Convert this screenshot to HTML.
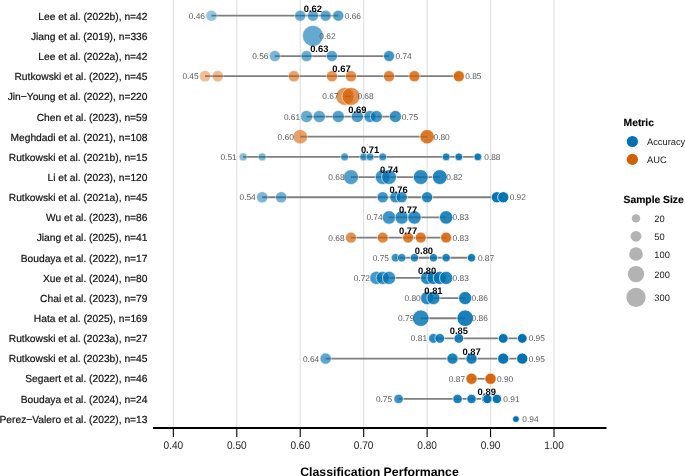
<!DOCTYPE html>
<html><head><meta charset="utf-8"><style>
html,body{margin:0;padding:0;background:#fff;width:685px;height:476px;overflow:hidden}
svg{display:block;will-change:transform;text-rendering:geometricPrecision}
text{font-family:"Liberation Sans",sans-serif}
</style></head><body>
<svg width="685" height="476" viewBox="0 0 685 476" font-family="Liberation Sans, sans-serif">
<line x1="173.35" y1="0" x2="173.35" y2="427" stroke="#E2E2E2" stroke-width="1.2"/>
<line x1="236.79" y1="0" x2="236.79" y2="427" stroke="#E2E2E2" stroke-width="1.2"/>
<line x1="300.23" y1="0" x2="300.23" y2="427" stroke="#E2E2E2" stroke-width="1.2"/>
<line x1="363.67" y1="0" x2="363.67" y2="427" stroke="#E2E2E2" stroke-width="1.2"/>
<line x1="427.11" y1="0" x2="427.11" y2="427" stroke="#E2E2E2" stroke-width="1.2"/>
<line x1="490.55" y1="0" x2="490.55" y2="427" stroke="#E2E2E2" stroke-width="1.2"/>
<line x1="553.99" y1="0" x2="553.99" y2="427" stroke="#E2E2E2" stroke-width="1.2"/>
<text x="147.5" y="19.90" text-anchor="end" font-size="10.25" fill="#111" stroke="#111" stroke-width="0.2">Lee et al. (2022b), n=42</text>
<line x1="211.41" y1="15.70" x2="338.29" y2="15.70" stroke="#7F7F7F" stroke-width="1.8"/>
<circle cx="211.41" cy="15.70" r="5.50" fill="rgb(0,114,178)" fill-opacity="0.412" stroke="#FFFFFF" stroke-opacity="0.412" stroke-width="0.8"/>
<circle cx="300.23" cy="15.70" r="5.50" fill="rgb(0,114,178)" fill-opacity="0.584" stroke="#FFFFFF" stroke-opacity="0.584" stroke-width="0.8"/>
<circle cx="312.92" cy="15.70" r="5.50" fill="rgb(0,114,178)" fill-opacity="0.608" stroke="#FFFFFF" stroke-opacity="0.608" stroke-width="0.8"/>
<circle cx="325.61" cy="15.70" r="5.50" fill="rgb(0,114,178)" fill-opacity="0.633" stroke="#FFFFFF" stroke-opacity="0.633" stroke-width="0.8"/>
<circle cx="338.29" cy="15.70" r="5.50" fill="rgb(0,114,178)" fill-opacity="0.657" stroke="#FFFFFF" stroke-opacity="0.657" stroke-width="0.8"/>
<text x="205.01" y="18.70" text-anchor="end" font-size="8.35" fill="#585858">0.46</text>
<text x="344.69" y="18.70" font-size="8.35" fill="#585858">0.66</text>
<text x="312.92" y="11.70" text-anchor="middle" font-size="9.4" font-weight="bold" fill="#000">0.62</text>
<text x="147.5" y="40.04" text-anchor="end" font-size="10.25" fill="#111" stroke="#111" stroke-width="0.2">Jiang et al. (2019), n=336</text>
<circle cx="312.92" cy="35.87" r="10.40" fill="rgb(0,114,178)" fill-opacity="0.608" stroke="#FFFFFF" stroke-opacity="0.608" stroke-width="0.8"/>
<text x="319.32" y="38.87" font-size="8.35" fill="#585858">0.62</text>
<text x="147.5" y="60.18" text-anchor="end" font-size="10.25" fill="#111" stroke="#111" stroke-width="0.2">Lee et al. (2022a), n=42</text>
<line x1="274.85" y1="56.04" x2="389.05" y2="56.04" stroke="#7F7F7F" stroke-width="1.8"/>
<circle cx="274.85" cy="56.04" r="5.50" fill="rgb(0,114,178)" fill-opacity="0.535" stroke="#FFFFFF" stroke-opacity="0.535" stroke-width="0.8"/>
<circle cx="306.57" cy="56.04" r="5.50" fill="rgb(0,114,178)" fill-opacity="0.596" stroke="#FFFFFF" stroke-opacity="0.596" stroke-width="0.8"/>
<circle cx="331.95" cy="56.04" r="5.50" fill="rgb(0,114,178)" fill-opacity="0.645" stroke="#FFFFFF" stroke-opacity="0.645" stroke-width="0.8"/>
<circle cx="389.05" cy="56.04" r="5.50" fill="rgb(0,114,178)" fill-opacity="0.755" stroke="#FFFFFF" stroke-opacity="0.755" stroke-width="0.8"/>
<text x="268.45" y="59.04" text-anchor="end" font-size="8.35" fill="#585858">0.56</text>
<text x="395.45" y="59.04" font-size="8.35" fill="#585858">0.74</text>
<text x="319.26" y="52.04" text-anchor="middle" font-size="9.4" font-weight="bold" fill="#000">0.63</text>
<text x="147.5" y="80.32" text-anchor="end" font-size="10.25" fill="#111" stroke="#111" stroke-width="0.2">Rutkowski et al. (2022), n=45</text>
<line x1="205.07" y1="76.21" x2="458.83" y2="76.21" stroke="#7F7F7F" stroke-width="1.8"/>
<circle cx="205.07" cy="76.21" r="5.60" fill="rgb(213,94,0)" fill-opacity="0.400" stroke="#FFFFFF" stroke-opacity="0.400" stroke-width="0.8"/>
<circle cx="217.76" cy="76.21" r="5.60" fill="rgb(213,94,0)" fill-opacity="0.424" stroke="#FFFFFF" stroke-opacity="0.424" stroke-width="0.8"/>
<circle cx="293.89" cy="76.21" r="5.60" fill="rgb(213,94,0)" fill-opacity="0.571" stroke="#FFFFFF" stroke-opacity="0.571" stroke-width="0.8"/>
<circle cx="331.95" cy="76.21" r="5.60" fill="rgb(213,94,0)" fill-opacity="0.645" stroke="#FFFFFF" stroke-opacity="0.645" stroke-width="0.8"/>
<circle cx="350.98" cy="76.21" r="5.60" fill="rgb(213,94,0)" fill-opacity="0.682" stroke="#FFFFFF" stroke-opacity="0.682" stroke-width="0.8"/>
<circle cx="389.05" cy="76.21" r="5.60" fill="rgb(213,94,0)" fill-opacity="0.755" stroke="#FFFFFF" stroke-opacity="0.755" stroke-width="0.8"/>
<circle cx="414.42" cy="76.21" r="5.60" fill="rgb(213,94,0)" fill-opacity="0.804" stroke="#FFFFFF" stroke-opacity="0.804" stroke-width="0.8"/>
<circle cx="458.83" cy="76.21" r="5.60" fill="rgb(213,94,0)" fill-opacity="0.890" stroke="#FFFFFF" stroke-opacity="0.890" stroke-width="0.8"/>
<text x="198.67" y="79.21" text-anchor="end" font-size="8.35" fill="#585858">0.45</text>
<text x="465.23" y="79.21" font-size="8.35" fill="#585858">0.85</text>
<text x="341.47" y="72.21" text-anchor="middle" font-size="9.4" font-weight="bold" fill="#000">0.67</text>
<text x="147.5" y="100.46" text-anchor="end" font-size="10.25" fill="#111" stroke="#111" stroke-width="0.2">Jin−Young et al. (2022), n=220</text>
<line x1="344.96" y1="96.38" x2="350.98" y2="96.38" stroke="#7F7F7F" stroke-width="1.8"/>
<circle cx="344.96" cy="96.38" r="9.00" fill="rgb(213,94,0)" fill-opacity="0.670" stroke="#FFFFFF" stroke-opacity="0.670" stroke-width="0.8"/>
<circle cx="350.98" cy="96.38" r="9.00" fill="rgb(213,94,0)" fill-opacity="0.682" stroke="#FFFFFF" stroke-opacity="0.682" stroke-width="0.8"/>
<text x="338.56" y="99.38" text-anchor="end" font-size="8.35" fill="#585858">0.67</text>
<text x="357.38" y="99.38" font-size="8.35" fill="#585858">0.68</text>
<text x="147.5" y="120.60" text-anchor="end" font-size="10.25" fill="#111" stroke="#111" stroke-width="0.2">Chen et al. (2023), n=59</text>
<line x1="306.57" y1="116.55" x2="395.39" y2="116.55" stroke="#7F7F7F" stroke-width="1.8"/>
<circle cx="306.57" cy="116.55" r="6.04" fill="rgb(0,114,178)" fill-opacity="0.596" stroke="#FFFFFF" stroke-opacity="0.596" stroke-width="0.8"/>
<circle cx="319.26" cy="116.55" r="6.04" fill="rgb(0,114,178)" fill-opacity="0.620" stroke="#FFFFFF" stroke-opacity="0.620" stroke-width="0.8"/>
<circle cx="338.29" cy="116.55" r="6.04" fill="rgb(0,114,178)" fill-opacity="0.657" stroke="#FFFFFF" stroke-opacity="0.657" stroke-width="0.8"/>
<circle cx="357.33" cy="116.55" r="6.04" fill="rgb(0,114,178)" fill-opacity="0.694" stroke="#FFFFFF" stroke-opacity="0.694" stroke-width="0.8"/>
<circle cx="370.01" cy="116.55" r="6.04" fill="rgb(0,114,178)" fill-opacity="0.718" stroke="#FFFFFF" stroke-opacity="0.718" stroke-width="0.8"/>
<circle cx="376.36" cy="116.55" r="6.04" fill="rgb(0,114,178)" fill-opacity="0.731" stroke="#FFFFFF" stroke-opacity="0.731" stroke-width="0.8"/>
<circle cx="395.39" cy="116.55" r="6.04" fill="rgb(0,114,178)" fill-opacity="0.767" stroke="#FFFFFF" stroke-opacity="0.767" stroke-width="0.8"/>
<text x="300.17" y="119.55" text-anchor="end" font-size="8.35" fill="#585858">0.61</text>
<text x="401.79" y="119.55" font-size="8.35" fill="#585858">0.75</text>
<text x="357.33" y="112.55" text-anchor="middle" font-size="9.4" font-weight="bold" fill="#000">0.69</text>
<text x="147.5" y="140.74" text-anchor="end" font-size="10.25" fill="#111" stroke="#111" stroke-width="0.2">Meghdadi et al. (2021), n=108</text>
<line x1="300.23" y1="136.72" x2="427.11" y2="136.72" stroke="#7F7F7F" stroke-width="1.8"/>
<circle cx="300.23" cy="136.72" r="7.20" fill="rgb(213,94,0)" fill-opacity="0.584" stroke="#FFFFFF" stroke-opacity="0.584" stroke-width="0.8"/>
<circle cx="427.11" cy="136.72" r="7.20" fill="rgb(213,94,0)" fill-opacity="0.829" stroke="#FFFFFF" stroke-opacity="0.829" stroke-width="0.8"/>
<text x="293.83" y="139.72" text-anchor="end" font-size="8.35" fill="#585858">0.60</text>
<text x="433.51" y="139.72" font-size="8.35" fill="#585858">0.80</text>
<text x="147.5" y="160.88" text-anchor="end" font-size="10.25" fill="#111" stroke="#111" stroke-width="0.2">Rutkowski et al. (2021b), n=15</text>
<line x1="243.13" y1="156.89" x2="477.86" y2="156.89" stroke="#7F7F7F" stroke-width="1.8"/>
<circle cx="243.13" cy="156.89" r="3.95" fill="rgb(0,114,178)" fill-opacity="0.473" stroke="#FFFFFF" stroke-opacity="0.473" stroke-width="0.8"/>
<circle cx="262.17" cy="156.89" r="3.95" fill="rgb(0,114,178)" fill-opacity="0.510" stroke="#FFFFFF" stroke-opacity="0.510" stroke-width="0.8"/>
<circle cx="344.64" cy="156.89" r="3.95" fill="rgb(0,114,178)" fill-opacity="0.669" stroke="#FFFFFF" stroke-opacity="0.669" stroke-width="0.8"/>
<circle cx="363.67" cy="156.89" r="3.95" fill="rgb(0,114,178)" fill-opacity="0.706" stroke="#FFFFFF" stroke-opacity="0.706" stroke-width="0.8"/>
<circle cx="370.01" cy="156.89" r="3.95" fill="rgb(0,114,178)" fill-opacity="0.718" stroke="#FFFFFF" stroke-opacity="0.718" stroke-width="0.8"/>
<circle cx="382.70" cy="156.89" r="3.95" fill="rgb(0,114,178)" fill-opacity="0.743" stroke="#FFFFFF" stroke-opacity="0.743" stroke-width="0.8"/>
<circle cx="446.14" cy="156.89" r="3.95" fill="rgb(0,114,178)" fill-opacity="0.865" stroke="#FFFFFF" stroke-opacity="0.865" stroke-width="0.8"/>
<circle cx="458.83" cy="156.89" r="3.95" fill="rgb(0,114,178)" fill-opacity="0.890" stroke="#FFFFFF" stroke-opacity="0.890" stroke-width="0.8"/>
<circle cx="477.86" cy="156.89" r="3.95" fill="rgb(0,114,178)" fill-opacity="0.927" stroke="#FFFFFF" stroke-opacity="0.927" stroke-width="0.8"/>
<text x="236.73" y="159.89" text-anchor="end" font-size="8.35" fill="#585858">0.51</text>
<text x="484.26" y="159.89" font-size="8.35" fill="#585858">0.88</text>
<text x="370.01" y="152.89" text-anchor="middle" font-size="9.4" font-weight="bold" fill="#000">0.71</text>
<text x="147.5" y="181.02" text-anchor="end" font-size="10.25" fill="#111" stroke="#111" stroke-width="0.2">Li et al. (2023), n=120</text>
<line x1="350.98" y1="177.06" x2="439.80" y2="177.06" stroke="#7F7F7F" stroke-width="1.8"/>
<circle cx="350.98" cy="177.06" r="7.43" fill="rgb(0,114,178)" fill-opacity="0.682" stroke="#FFFFFF" stroke-opacity="0.682" stroke-width="0.8"/>
<circle cx="382.70" cy="177.06" r="7.43" fill="rgb(0,114,178)" fill-opacity="0.743" stroke="#FFFFFF" stroke-opacity="0.743" stroke-width="0.8"/>
<circle cx="389.05" cy="177.06" r="7.43" fill="rgb(0,114,178)" fill-opacity="0.755" stroke="#FFFFFF" stroke-opacity="0.755" stroke-width="0.8"/>
<circle cx="420.77" cy="177.06" r="7.43" fill="rgb(0,114,178)" fill-opacity="0.816" stroke="#FFFFFF" stroke-opacity="0.816" stroke-width="0.8"/>
<circle cx="439.80" cy="177.06" r="7.43" fill="rgb(0,114,178)" fill-opacity="0.853" stroke="#FFFFFF" stroke-opacity="0.853" stroke-width="0.8"/>
<text x="344.58" y="180.06" text-anchor="end" font-size="8.35" fill="#585858">0.68</text>
<text x="446.20" y="180.06" font-size="8.35" fill="#585858">0.82</text>
<text x="389.05" y="173.06" text-anchor="middle" font-size="9.4" font-weight="bold" fill="#000">0.74</text>
<text x="147.5" y="201.16" text-anchor="end" font-size="10.25" fill="#111" stroke="#111" stroke-width="0.2">Rutkowski et al. (2021a), n=45</text>
<line x1="262.17" y1="197.23" x2="503.24" y2="197.23" stroke="#7F7F7F" stroke-width="1.8"/>
<circle cx="262.17" cy="197.23" r="5.60" fill="rgb(0,114,178)" fill-opacity="0.510" stroke="#FFFFFF" stroke-opacity="0.510" stroke-width="0.8"/>
<circle cx="281.20" cy="197.23" r="5.60" fill="rgb(0,114,178)" fill-opacity="0.547" stroke="#FFFFFF" stroke-opacity="0.547" stroke-width="0.8"/>
<circle cx="382.70" cy="197.23" r="5.60" fill="rgb(0,114,178)" fill-opacity="0.743" stroke="#FFFFFF" stroke-opacity="0.743" stroke-width="0.8"/>
<circle cx="395.39" cy="197.23" r="5.60" fill="rgb(0,114,178)" fill-opacity="0.767" stroke="#FFFFFF" stroke-opacity="0.767" stroke-width="0.8"/>
<circle cx="401.73" cy="197.23" r="5.60" fill="rgb(0,114,178)" fill-opacity="0.780" stroke="#FFFFFF" stroke-opacity="0.780" stroke-width="0.8"/>
<circle cx="427.11" cy="197.23" r="5.60" fill="rgb(0,114,178)" fill-opacity="0.829" stroke="#FFFFFF" stroke-opacity="0.829" stroke-width="0.8"/>
<circle cx="496.89" cy="197.23" r="5.60" fill="rgb(0,114,178)" fill-opacity="0.963" stroke="#FFFFFF" stroke-opacity="0.963" stroke-width="0.8"/>
<circle cx="503.24" cy="197.23" r="5.60" fill="rgb(0,114,178)" fill-opacity="0.976" stroke="#FFFFFF" stroke-opacity="0.976" stroke-width="0.8"/>
<text x="255.77" y="200.23" text-anchor="end" font-size="8.35" fill="#585858">0.54</text>
<text x="509.64" y="200.23" font-size="8.35" fill="#585858">0.92</text>
<text x="398.56" y="193.23" text-anchor="middle" font-size="9.4" font-weight="bold" fill="#000">0.76</text>
<text x="147.5" y="221.30" text-anchor="end" font-size="10.25" fill="#111" stroke="#111" stroke-width="0.2">Wu et al. (2023), n=86</text>
<line x1="389.05" y1="217.40" x2="446.14" y2="217.40" stroke="#7F7F7F" stroke-width="1.8"/>
<circle cx="389.05" cy="217.40" r="6.73" fill="rgb(0,114,178)" fill-opacity="0.755" stroke="#FFFFFF" stroke-opacity="0.755" stroke-width="0.8"/>
<circle cx="401.73" cy="217.40" r="6.73" fill="rgb(0,114,178)" fill-opacity="0.780" stroke="#FFFFFF" stroke-opacity="0.780" stroke-width="0.8"/>
<circle cx="414.42" cy="217.40" r="6.73" fill="rgb(0,114,178)" fill-opacity="0.804" stroke="#FFFFFF" stroke-opacity="0.804" stroke-width="0.8"/>
<circle cx="446.14" cy="217.40" r="6.73" fill="rgb(0,114,178)" fill-opacity="0.865" stroke="#FFFFFF" stroke-opacity="0.865" stroke-width="0.8"/>
<text x="382.65" y="220.40" text-anchor="end" font-size="8.35" fill="#585858">0.74</text>
<text x="452.54" y="220.40" font-size="8.35" fill="#585858">0.83</text>
<text x="408.08" y="213.40" text-anchor="middle" font-size="9.4" font-weight="bold" fill="#000">0.77</text>
<text x="147.5" y="241.44" text-anchor="end" font-size="10.25" fill="#111" stroke="#111" stroke-width="0.2">Jiang et al. (2025), n=41</text>
<line x1="350.98" y1="237.57" x2="446.14" y2="237.57" stroke="#7F7F7F" stroke-width="1.8"/>
<circle cx="350.98" cy="237.57" r="5.46" fill="rgb(213,94,0)" fill-opacity="0.682" stroke="#FFFFFF" stroke-opacity="0.682" stroke-width="0.8"/>
<circle cx="382.70" cy="237.57" r="5.46" fill="rgb(213,94,0)" fill-opacity="0.743" stroke="#FFFFFF" stroke-opacity="0.743" stroke-width="0.8"/>
<circle cx="408.08" cy="237.57" r="5.46" fill="rgb(213,94,0)" fill-opacity="0.792" stroke="#FFFFFF" stroke-opacity="0.792" stroke-width="0.8"/>
<circle cx="420.77" cy="237.57" r="5.46" fill="rgb(213,94,0)" fill-opacity="0.816" stroke="#FFFFFF" stroke-opacity="0.816" stroke-width="0.8"/>
<circle cx="446.14" cy="237.57" r="5.46" fill="rgb(213,94,0)" fill-opacity="0.865" stroke="#FFFFFF" stroke-opacity="0.865" stroke-width="0.8"/>
<text x="344.58" y="240.57" text-anchor="end" font-size="8.35" fill="#585858">0.68</text>
<text x="452.54" y="240.57" font-size="8.35" fill="#585858">0.83</text>
<text x="408.08" y="233.57" text-anchor="middle" font-size="9.4" font-weight="bold" fill="#000">0.77</text>
<text x="147.5" y="261.58" text-anchor="end" font-size="10.25" fill="#111" stroke="#111" stroke-width="0.2">Boudaya et al. (2022), n=17</text>
<line x1="395.39" y1="257.74" x2="471.52" y2="257.74" stroke="#7F7F7F" stroke-width="1.8"/>
<circle cx="395.39" cy="257.74" r="4.18" fill="rgb(0,114,178)" fill-opacity="0.767" stroke="#FFFFFF" stroke-opacity="0.767" stroke-width="0.8"/>
<circle cx="401.73" cy="257.74" r="4.18" fill="rgb(0,114,178)" fill-opacity="0.780" stroke="#FFFFFF" stroke-opacity="0.780" stroke-width="0.8"/>
<circle cx="414.42" cy="257.74" r="4.18" fill="rgb(0,114,178)" fill-opacity="0.804" stroke="#FFFFFF" stroke-opacity="0.804" stroke-width="0.8"/>
<circle cx="433.45" cy="257.74" r="4.18" fill="rgb(0,114,178)" fill-opacity="0.841" stroke="#FFFFFF" stroke-opacity="0.841" stroke-width="0.8"/>
<circle cx="446.14" cy="257.74" r="4.18" fill="rgb(0,114,178)" fill-opacity="0.865" stroke="#FFFFFF" stroke-opacity="0.865" stroke-width="0.8"/>
<circle cx="471.52" cy="257.74" r="4.18" fill="rgb(0,114,178)" fill-opacity="0.914" stroke="#FFFFFF" stroke-opacity="0.914" stroke-width="0.8"/>
<text x="388.99" y="260.74" text-anchor="end" font-size="8.35" fill="#585858">0.75</text>
<text x="477.92" y="260.74" font-size="8.35" fill="#585858">0.87</text>
<text x="423.94" y="253.74" text-anchor="middle" font-size="9.4" font-weight="bold" fill="#000">0.80</text>
<text x="147.5" y="281.72" text-anchor="end" font-size="10.25" fill="#111" stroke="#111" stroke-width="0.2">Xue et al. (2024), n=80</text>
<line x1="376.36" y1="277.91" x2="446.14" y2="277.91" stroke="#7F7F7F" stroke-width="1.8"/>
<circle cx="376.36" cy="277.91" r="6.59" fill="rgb(0,114,178)" fill-opacity="0.731" stroke="#FFFFFF" stroke-opacity="0.731" stroke-width="0.8"/>
<circle cx="382.70" cy="277.91" r="6.59" fill="rgb(0,114,178)" fill-opacity="0.743" stroke="#FFFFFF" stroke-opacity="0.743" stroke-width="0.8"/>
<circle cx="389.05" cy="277.91" r="6.59" fill="rgb(0,114,178)" fill-opacity="0.755" stroke="#FFFFFF" stroke-opacity="0.755" stroke-width="0.8"/>
<circle cx="427.11" cy="277.91" r="6.59" fill="rgb(0,114,178)" fill-opacity="0.829" stroke="#FFFFFF" stroke-opacity="0.829" stroke-width="0.8"/>
<circle cx="433.45" cy="277.91" r="6.59" fill="rgb(0,114,178)" fill-opacity="0.841" stroke="#FFFFFF" stroke-opacity="0.841" stroke-width="0.8"/>
<circle cx="439.80" cy="277.91" r="6.59" fill="rgb(0,114,178)" fill-opacity="0.853" stroke="#FFFFFF" stroke-opacity="0.853" stroke-width="0.8"/>
<circle cx="446.14" cy="277.91" r="6.59" fill="rgb(0,114,178)" fill-opacity="0.865" stroke="#FFFFFF" stroke-opacity="0.865" stroke-width="0.8"/>
<text x="369.96" y="280.91" text-anchor="end" font-size="8.35" fill="#585858">0.72</text>
<text x="452.54" y="280.91" font-size="8.35" fill="#585858">0.83</text>
<text x="427.11" y="273.91" text-anchor="middle" font-size="9.4" font-weight="bold" fill="#000">0.80</text>
<text x="147.5" y="301.86" text-anchor="end" font-size="10.25" fill="#111" stroke="#111" stroke-width="0.2">Chai et al. (2023), n=79</text>
<line x1="427.11" y1="298.08" x2="465.17" y2="298.08" stroke="#7F7F7F" stroke-width="1.8"/>
<circle cx="427.11" cy="298.08" r="6.56" fill="rgb(0,114,178)" fill-opacity="0.829" stroke="#FFFFFF" stroke-opacity="0.829" stroke-width="0.8"/>
<circle cx="433.45" cy="298.08" r="6.56" fill="rgb(0,114,178)" fill-opacity="0.841" stroke="#FFFFFF" stroke-opacity="0.841" stroke-width="0.8"/>
<circle cx="465.17" cy="298.08" r="6.56" fill="rgb(0,114,178)" fill-opacity="0.902" stroke="#FFFFFF" stroke-opacity="0.902" stroke-width="0.8"/>
<text x="420.71" y="301.08" text-anchor="end" font-size="8.35" fill="#585858">0.80</text>
<text x="471.57" y="301.08" font-size="8.35" fill="#585858">0.86</text>
<text x="433.45" y="294.08" text-anchor="middle" font-size="9.4" font-weight="bold" fill="#000">0.81</text>
<text x="147.5" y="322.00" text-anchor="end" font-size="10.25" fill="#111" stroke="#111" stroke-width="0.2">Hata et al. (2025), n=169</text>
<line x1="420.77" y1="318.25" x2="465.17" y2="318.25" stroke="#7F7F7F" stroke-width="1.8"/>
<circle cx="420.77" cy="318.25" r="8.26" fill="rgb(0,114,178)" fill-opacity="0.816" stroke="#FFFFFF" stroke-opacity="0.816" stroke-width="0.8"/>
<circle cx="465.17" cy="318.25" r="8.26" fill="rgb(0,114,178)" fill-opacity="0.902" stroke="#FFFFFF" stroke-opacity="0.902" stroke-width="0.8"/>
<text x="414.37" y="321.25" text-anchor="end" font-size="8.35" fill="#585858">0.79</text>
<text x="471.57" y="321.25" font-size="8.35" fill="#585858">0.86</text>
<text x="147.5" y="342.14" text-anchor="end" font-size="10.25" fill="#111" stroke="#111" stroke-width="0.2">Rutkowski et al. (2023a), n=27</text>
<line x1="433.45" y1="338.42" x2="522.27" y2="338.42" stroke="#7F7F7F" stroke-width="1.8"/>
<circle cx="433.45" cy="338.42" r="4.86" fill="rgb(0,114,178)" fill-opacity="0.841" stroke="#FFFFFF" stroke-opacity="0.841" stroke-width="0.8"/>
<circle cx="439.80" cy="338.42" r="4.86" fill="rgb(0,114,178)" fill-opacity="0.853" stroke="#FFFFFF" stroke-opacity="0.853" stroke-width="0.8"/>
<circle cx="458.83" cy="338.42" r="4.86" fill="rgb(0,114,178)" fill-opacity="0.890" stroke="#FFFFFF" stroke-opacity="0.890" stroke-width="0.8"/>
<circle cx="503.24" cy="338.42" r="4.86" fill="rgb(0,114,178)" fill-opacity="0.976" stroke="#FFFFFF" stroke-opacity="0.976" stroke-width="0.8"/>
<circle cx="522.27" cy="338.42" r="4.86" fill="rgb(0,114,178)" fill-opacity="1.000" stroke="#FFFFFF" stroke-opacity="1.000" stroke-width="0.8"/>
<text x="427.05" y="341.42" text-anchor="end" font-size="8.35" fill="#585858">0.81</text>
<text x="528.67" y="341.42" font-size="8.35" fill="#585858">0.95</text>
<text x="458.83" y="334.42" text-anchor="middle" font-size="9.4" font-weight="bold" fill="#000">0.85</text>
<text x="147.5" y="362.28" text-anchor="end" font-size="10.25" fill="#111" stroke="#111" stroke-width="0.2">Rutkowski et al. (2023b), n=45</text>
<line x1="325.61" y1="358.59" x2="522.27" y2="358.59" stroke="#7F7F7F" stroke-width="1.8"/>
<circle cx="325.61" cy="358.59" r="5.60" fill="rgb(0,114,178)" fill-opacity="0.633" stroke="#FFFFFF" stroke-opacity="0.633" stroke-width="0.8"/>
<circle cx="452.49" cy="358.59" r="5.60" fill="rgb(0,114,178)" fill-opacity="0.878" stroke="#FFFFFF" stroke-opacity="0.878" stroke-width="0.8"/>
<circle cx="471.52" cy="358.59" r="5.60" fill="rgb(0,114,178)" fill-opacity="0.914" stroke="#FFFFFF" stroke-opacity="0.914" stroke-width="0.8"/>
<circle cx="503.24" cy="358.59" r="5.60" fill="rgb(0,114,178)" fill-opacity="0.976" stroke="#FFFFFF" stroke-opacity="0.976" stroke-width="0.8"/>
<circle cx="522.27" cy="358.59" r="5.60" fill="rgb(0,114,178)" fill-opacity="1.000" stroke="#FFFFFF" stroke-opacity="1.000" stroke-width="0.8"/>
<text x="319.21" y="361.59" text-anchor="end" font-size="8.35" fill="#585858">0.64</text>
<text x="528.67" y="361.59" font-size="8.35" fill="#585858">0.95</text>
<text x="471.52" y="354.59" text-anchor="middle" font-size="9.4" font-weight="bold" fill="#000">0.87</text>
<text x="147.5" y="382.42" text-anchor="end" font-size="10.25" fill="#111" stroke="#111" stroke-width="0.2">Segaert et al. (2022), n=46</text>
<line x1="471.52" y1="378.76" x2="490.55" y2="378.76" stroke="#7F7F7F" stroke-width="1.8"/>
<circle cx="471.52" cy="378.76" r="5.64" fill="rgb(213,94,0)" fill-opacity="0.914" stroke="#FFFFFF" stroke-opacity="0.914" stroke-width="0.8"/>
<circle cx="490.55" cy="378.76" r="5.64" fill="rgb(213,94,0)" fill-opacity="0.951" stroke="#FFFFFF" stroke-opacity="0.951" stroke-width="0.8"/>
<text x="465.12" y="381.76" text-anchor="end" font-size="8.35" fill="#585858">0.87</text>
<text x="496.95" y="381.76" font-size="8.35" fill="#585858">0.90</text>
<text x="147.5" y="402.56" text-anchor="end" font-size="10.25" fill="#111" stroke="#111" stroke-width="0.2">Boudaya et al. (2024), n=24</text>
<line x1="398.56" y1="398.93" x2="496.89" y2="398.93" stroke="#7F7F7F" stroke-width="1.8"/>
<circle cx="398.56" cy="398.93" r="4.69" fill="rgb(0,114,178)" fill-opacity="0.773" stroke="#FFFFFF" stroke-opacity="0.773" stroke-width="0.8"/>
<circle cx="457.56" cy="398.93" r="4.69" fill="rgb(0,114,178)" fill-opacity="0.887" stroke="#FFFFFF" stroke-opacity="0.887" stroke-width="0.8"/>
<circle cx="471.52" cy="398.93" r="4.69" fill="rgb(0,114,178)" fill-opacity="0.914" stroke="#FFFFFF" stroke-opacity="0.914" stroke-width="0.8"/>
<circle cx="486.11" cy="398.93" r="4.69" fill="rgb(0,114,178)" fill-opacity="0.942" stroke="#FFFFFF" stroke-opacity="0.942" stroke-width="0.8"/>
<circle cx="487.38" cy="398.93" r="4.69" fill="rgb(0,114,178)" fill-opacity="0.945" stroke="#FFFFFF" stroke-opacity="0.945" stroke-width="0.8"/>
<circle cx="496.89" cy="398.93" r="4.69" fill="rgb(0,114,178)" fill-opacity="0.963" stroke="#FFFFFF" stroke-opacity="0.963" stroke-width="0.8"/>
<text x="392.16" y="401.93" text-anchor="end" font-size="8.35" fill="#585858">0.75</text>
<text x="503.29" y="401.93" font-size="8.35" fill="#585858">0.91</text>
<text x="486.74" y="394.93" text-anchor="middle" font-size="9.4" font-weight="bold" fill="#000">0.89</text>
<text x="147.5" y="422.70" text-anchor="end" font-size="10.25" fill="#111" stroke="#111" stroke-width="0.2">Perez−Valero et al. (2022), n=13</text>
<circle cx="515.93" cy="419.10" r="3.40" fill="rgb(0,114,178)" fill-opacity="1.000" stroke="#FFFFFF" stroke-opacity="1.000" stroke-width="0.8"/>
<text x="522.33" y="422.10" font-size="8.35" fill="#585858">0.94</text>
<line x1="153" y1="427.9" x2="606.5" y2="427.9" stroke="#000" stroke-width="2"/>
<line x1="173.35" y1="428" x2="173.35" y2="436.9" stroke="#000" stroke-width="1.1"/>
<text transform="translate(173.35 449.2) scale(1 1.1)" text-anchor="middle" font-size="10.1" fill="#1A1A1A">0.40</text>
<line x1="236.79" y1="428" x2="236.79" y2="436.9" stroke="#000" stroke-width="1.1"/>
<text transform="translate(236.79 449.2) scale(1 1.1)" text-anchor="middle" font-size="10.1" fill="#1A1A1A">0.50</text>
<line x1="300.23" y1="428" x2="300.23" y2="436.9" stroke="#000" stroke-width="1.1"/>
<text transform="translate(300.23 449.2) scale(1 1.1)" text-anchor="middle" font-size="10.1" fill="#1A1A1A">0.60</text>
<line x1="363.67" y1="428" x2="363.67" y2="436.9" stroke="#000" stroke-width="1.1"/>
<text transform="translate(363.67 449.2) scale(1 1.1)" text-anchor="middle" font-size="10.1" fill="#1A1A1A">0.70</text>
<line x1="427.11" y1="428" x2="427.11" y2="436.9" stroke="#000" stroke-width="1.1"/>
<text transform="translate(427.11 449.2) scale(1 1.1)" text-anchor="middle" font-size="10.1" fill="#1A1A1A">0.80</text>
<line x1="490.55" y1="428" x2="490.55" y2="436.9" stroke="#000" stroke-width="1.1"/>
<text transform="translate(490.55 449.2) scale(1 1.1)" text-anchor="middle" font-size="10.1" fill="#1A1A1A">0.90</text>
<line x1="553.99" y1="428" x2="553.99" y2="436.9" stroke="#000" stroke-width="1.1"/>
<text transform="translate(553.99 449.2) scale(1 1.1)" text-anchor="middle" font-size="10.1" fill="#1A1A1A">1.00</text>
<text x="379.5" y="475.5" text-anchor="middle" font-size="12.3" font-weight="bold" fill="#000">Classification Performance</text>
<text x="623.6" y="125.8" font-size="10.3" font-weight="bold" fill="#000" stroke="#000" stroke-width="0.15">Metric</text>
<circle cx="632.4" cy="141.5" r="5.6" fill="rgb(0,114,178)"/>
<circle cx="632.4" cy="159.4" r="5.6" fill="rgb(213,94,0)"/>
<text x="647.0" y="145.1" font-size="9.3" fill="#1A1A1A">Accuracy</text>
<text x="647.0" y="162.9" font-size="9.3" fill="#1A1A1A">AUC</text>
<text x="623.6" y="202.6" font-size="10.3" font-weight="bold" fill="#000" stroke="#000" stroke-width="0.15">Sample Size</text>
<circle cx="636.0" cy="218.4" r="4.2" fill="#B3B3B3"/>
<text x="654.3" y="221.8" font-size="9.3" fill="#1A1A1A">20</text>
<circle cx="636.0" cy="236.3" r="5.4" fill="#B3B3B3"/>
<text x="654.3" y="239.7" font-size="9.3" fill="#1A1A1A">50</text>
<circle cx="636.0" cy="254.0" r="6.8" fill="#B3B3B3"/>
<text x="654.3" y="257.6" font-size="9.3" fill="#1A1A1A">100</text>
<circle cx="636.0" cy="274.1" r="8.2" fill="#B3B3B3"/>
<text x="654.3" y="277.5" font-size="9.3" fill="#1A1A1A">200</text>
<circle cx="636.0" cy="297.4" r="9.6" fill="#B3B3B3"/>
<text x="654.3" y="300.6" font-size="9.3" fill="#1A1A1A">300</text>
</svg>
</body></html>
